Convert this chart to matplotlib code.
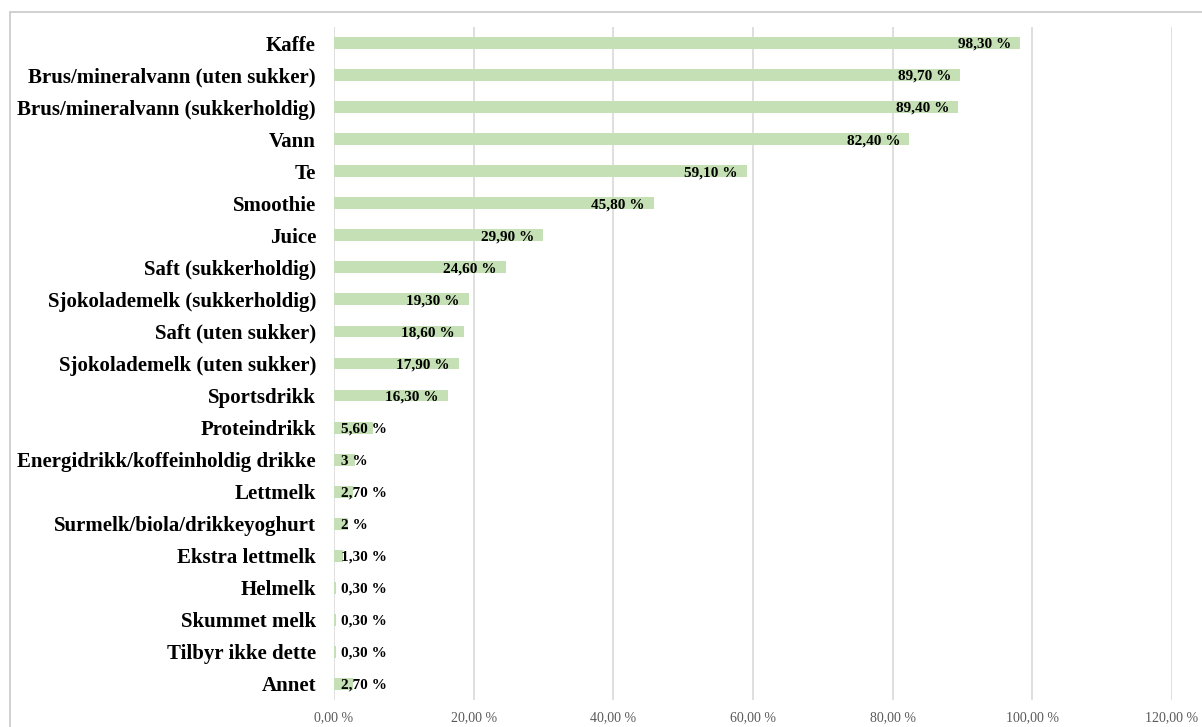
import matplotlib.pyplot as plt
from matplotlib.patches import Rectangle

# Drinks offered, share of respondents (%)
drinks = [
    "Kaffe",
    "Brus/mineralvann (uten sukker)",
    "Brus/mineralvann (sukkerholdig)",
    "Vann",
    "Te",
    "Smoothie",
    "Juice",
    "Saft (sukkerholdig)",
    "Sjokolademelk (sukkerholdig)",
    "Saft (uten sukker)",
    "Sjokolademelk (uten sukker)",
    "Sportsdrikk",
    "Proteindrikk",
    "Energidrikk/koffeinholdig drikke",
    "Lettmelk",
    "Surmelk/biola/drikkeyoghurt",
    "Ekstra lettmelk",
    "Helmelk",
    "Skummet melk",
    "Tilbyr ikke dette",
    "Annet",
]
shares = [98.3, 89.7, 89.4, 82.4, 59.1, 45.8, 29.9, 24.6, 19.3, 18.6, 17.9,
          16.3, 5.6, 3.0, 2.7, 2.0, 1.3, 0.3, 0.3, 0.3, 2.7]
xticks = [0, 20, 40, 60, 80, 100, 120]


def pct_label(v):
    return f"{v:.2f} %".replace(".", ",")


def value_label(v):
    # whole numbers are shown without decimals
    if float(v).is_integer():
        return f"{int(v)} %"
    return pct_label(v)


plt.rcParams["font.family"] = ["Liberation Serif", "DejaVu Serif"]

fig = plt.figure(figsize=(12.02, 7.27), dpi=100)
ax = fig.add_axes([334 / 1202, 27 / 727, (1172 - 334) / 1202, (700 - 27) / 727])

pos = list(range(len(drinks)))
ax.barh(pos, shares, height=0.37, color="#c5e0b4", zorder=2)

for y, v in zip(pos, shares):
    if v >= 10:
        # label sits inside the end of the bar
        ax.annotate(value_label(v), (v, y), xytext=(-6.5, -1), textcoords="offset points",
                    ha="right", va="center", fontsize=11, fontweight="bold", zorder=3)
    else:
        # too short for the label, start it near the base instead
        ax.annotate(value_label(v), (0, y), xytext=(5, -1), textcoords="offset points",
                    ha="left", va="center", fontsize=11, fontweight="bold", zorder=3)

ax.set_xlim(0, 120)
ax.set_ylim(len(drinks) - 0.5, -0.5)
ax.set_yticks(pos)
ax.set_yticklabels(drinks, fontsize=15, fontweight="bold")
ax.set_xticks(xticks)
ax.set_xticklabels([pct_label(t) for t in xticks], fontsize=10, color="#595959")
ax.tick_params(axis="y", length=0, pad=13)
ax.tick_params(axis="x", length=0, pad=8)
ax.xaxis.grid(True, color="#d9d9d9", linewidth=1.2, zorder=0)
for s in ax.spines.values():
    s.set_visible(False)

# light frame around the chart area
fig.add_artist(Rectangle((9.5 / 1202, -0.05), 1.2, 1.05 - 12 / 727,
                         transform=fig.transFigure, fill=False,
                         edgecolor="#c8c8c8", linewidth=1.2))

fig.savefig("out.png", dpi=100)
